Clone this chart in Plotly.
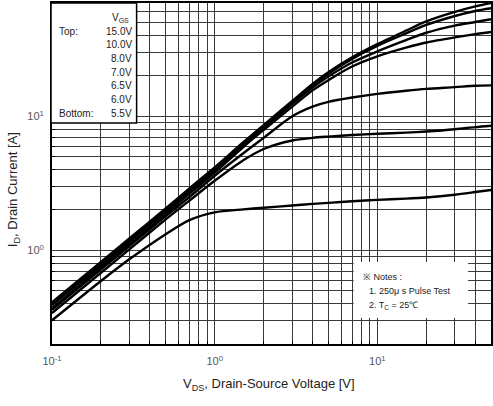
import plotly.graph_objects as go

# Drain-source voltage sample points [V]
vds = [0.1, 0.2, 0.3, 0.5, 0.7, 1, 1.5, 2, 3, 4, 5, 7, 10, 15, 20, 30, 40, 50]

# Drain current [A] for each gate voltage
id_15v0 = [0.41, 0.82, 1.23, 2.05, 2.9, 4.15, 6.4, 8.6, 13.0, 17.4, 21.3, 27.5, 34.5, 43.5, 51.0, 60.0, 66.0, 70.0]
id_10v0 = [0.40, 0.80, 1.20, 2.00, 2.85, 4.10, 6.3, 8.5, 12.8, 17.0, 20.8, 26.8, 33.5, 41.5, 48.0, 56.0, 61.0, 64.0]
id_8v0 = [0.39, 0.78, 1.17, 1.95, 2.75, 3.95, 6.1, 8.2, 12.4, 16.4, 19.8, 25.2, 30.5, 37.0, 42.0, 47.5, 50.5, 53.0]
id_7v0 = [0.37, 0.75, 1.12, 1.87, 2.65, 3.80, 5.9, 7.9, 11.8, 15.6, 18.6, 23.5, 28.0, 32.5, 35.5, 38.8, 41.0, 42.5]
id_6v5 = [0.36, 0.72, 1.08, 1.80, 2.50, 3.60, 5.3, 6.9, 10.0, 11.8, 12.8, 13.8, 14.7, 15.5, 16.0, 16.5, 16.9, 17.0]
id_6v0 = [0.34, 0.68, 1.02, 1.70, 2.35, 3.30, 4.7, 5.7, 6.6, 6.9, 7.05, 7.25, 7.4, 7.55, 7.7, 8.0, 8.3, 8.5]
id_5v5 = [0.30, 0.59, 0.86, 1.32, 1.68, 1.92, 2.02, 2.08, 2.16, 2.22, 2.26, 2.32, 2.38, 2.43, 2.48, 2.60, 2.72, 2.82]

series = [id_15v0, id_10v0, id_8v0, id_7v0, id_6v5, id_6v0, id_5v5]
vgs_labels = ["15.0V", "10.0V", "8.0V", "7.0V", "6.5V", "6.0V", "5.5V"]

x_tickvals = [0.1, 1, 10]
x_ticktext = ["10<sup>-1</sup>", "10<sup>0</sup>", "10<sup>1</sup>"]
y_tickvals = [1, 10]
y_ticktext = ["10<sup>0</sup>", "10<sup>1</sup>"]

x_minor = [m * 10 ** e for e in (-1, 0, 1) for m in range(2, 10) if m * 10 ** e <= 50]
y_minor = [m * 10 ** e for e in (-1, 0, 1) for m in range(2, 10) if 0.2 <= m * 10 ** e <= 70]

FONT = "Liberation Sans, Arial, sans-serif"
GRID = "#3a3a3a"

fig = go.Figure()
for name, ys in zip(vgs_labels, series):
    fig.add_trace(go.Scatter(
        x=vds, y=ys, mode="lines", name=name,
        line=dict(color="black", width=2.4, shape="spline", smoothing=0.8),
        showlegend=False,
    ))

# plot-area geometry helpers (paper coordinates)
L, R, T, B = 52, 493, 3, 344
def px(xp):
    return (xp - L) / (R - L)
def py(yp):
    return (B - yp) / (B - T)

annotations = []
shapes = []

# legend box
shapes.append(dict(type="rect", xref="paper", yref="paper",
                   x0=px(51), x1=px(137), y0=py(123), y1=py(3),
                   line=dict(color="black", width=1.5), fillcolor="white", layer="above"))
annotations.append(dict(xref="paper", yref="paper", x=px(121), y=py(18), text="V<sub>GS</sub>",
                        showarrow=False, xanchor="center", yanchor="middle",
                        font=dict(family=FONT, size=10, color="#222")))
for i, lab in enumerate(vgs_labels):
    annotations.append(dict(xref="paper", yref="paper", x=px(134), y=py(31 + 13.7 * i), text=lab,
                            showarrow=False, xanchor="right", yanchor="middle",
                            font=dict(family=FONT, size=10, color="#222")))
annotations.append(dict(xref="paper", yref="paper", x=px(57), y=py(31), text="Top:",
                        showarrow=False, xanchor="left", yanchor="middle",
                        font=dict(family=FONT, size=10, color="#222")))
annotations.append(dict(xref="paper", yref="paper", x=px(57), y=py(113), text="Bottom:",
                        showarrow=False, xanchor="left", yanchor="middle",
                        font=dict(family=FONT, size=10, color="#222")))

# notes box
shapes.append(dict(type="rect", xref="paper", yref="paper",
                   x0=px(355), x1=px(470), y0=py(318), y1=py(262),
                   line=dict(color="white", width=0), fillcolor="white", layer="above"))
notes = ["※ Notes :", "1. 250μ s Pulse Test", "2. T<sub>C</sub> = 25℃"]
note_x = [362, 368, 368]
for i, t in enumerate(notes):
    annotations.append(dict(xref="paper", yref="paper", x=px(note_x[i]), y=py(277 + 14 * i), text=t,
                            showarrow=False, xanchor="left", yanchor="middle",
                            font=dict(family=FONT, size=9, color="#222")))

# axis titles as annotations for exact placement
annotations.append(dict(xref="paper", yref="paper", x=px(270), y=py(385),
                        text="V<sub>DS</sub>, Drain-Source Voltage [V]", showarrow=False,
                        xanchor="center", yanchor="middle",
                        font=dict(family=FONT, size=13, color="#222")))
annotations.append(dict(xref="paper", yref="paper", x=px(14), y=py(190),
                        text="I<sub>D</sub>, Drain Current [A]", showarrow=False, textangle=-90,
                        xanchor="center", yanchor="middle",
                        font=dict(family=FONT, size=13, color="#222")))

fig.update_layout(
    width=493, height=406,
    margin=dict(l=L, r=0, t=T, b=406 - B),
    paper_bgcolor="white", plot_bgcolor="white",
    font=dict(family=FONT, size=10, color="#333"),
    shapes=shapes, annotations=annotations,
)
fig.update_xaxes(
    type="log", range=[-1, 1.69897],
    tickmode="array", tickvals=x_tickvals, ticktext=x_ticktext,
    showgrid=True, gridcolor=GRID, gridwidth=1.3,
    minor=dict(tickmode="array", tickvals=x_minor, showgrid=True, gridcolor=GRID, gridwidth=1.3,
               ticks="inside", ticklen=3, tickcolor="black"),
    showline=True, linecolor="black", linewidth=2, mirror=True,
    ticks="outside", ticklen=6, tickcolor="white",
    tickfont=dict(family=FONT, size=11, color="#555"),
    zeroline=False,
)
fig.update_yaxes(
    type="log", range=[-0.69897, 1.845098],
    tickmode="array", tickvals=y_tickvals, ticktext=y_ticktext,
    showgrid=True, gridcolor=GRID, gridwidth=1.3,
    minor=dict(tickmode="array", tickvals=y_minor, showgrid=True, gridcolor=GRID, gridwidth=1.3,
               ticks="inside", ticklen=3, tickcolor="black"),
    showline=True, linecolor="black", linewidth=2, mirror=True,
    ticks="outside", ticklen=4, tickcolor="white",
    tickfont=dict(family=FONT, size=11, color="#555"),
    zeroline=False,
)

fig.write_html("out.html", config={"displayModeBar": False},
               post_script="document.body.style.margin='0';")
